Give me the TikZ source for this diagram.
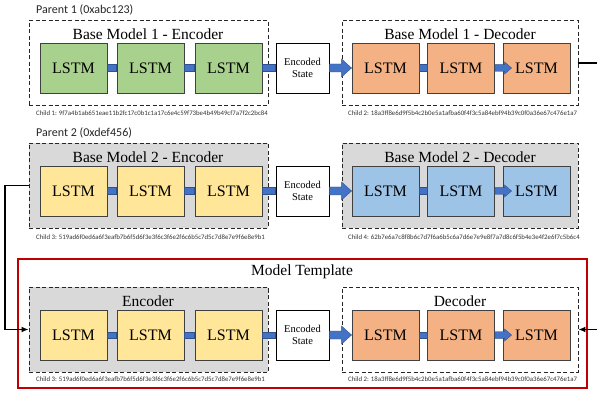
\documentclass[tikz,border=0pt]{standalone}
\usepackage{fontspec}
\setmainfont{Liberation Serif}
\newfontfamily\sansf{Carlito}
\usetikzlibrary{calc,arrows.meta}

\definecolor{lgreen}{HTML}{A9D18E}
\definecolor{lorange}{HTML}{F4B183}
\definecolor{lyellow}{HTML}{FFE699}
\definecolor{lblue}{HTML}{9DC3E6}
\definecolor{panelgray}{HTML}{D9D9D9}
\definecolor{barblue}{HTML}{4472C4}
\definecolor{bardark}{HTML}{2F528F}
\definecolor{framered}{HTML}{C00000}
\definecolor{edgegray}{HTML}{404040}

\tikzset{
  lstmbox/.style={draw=edgegray, line width=0.9pt, minimum width=67pt, minimum height=50pt,
    inner sep=0pt, font=\fontsize{16}{16}\selectfont},
  encbox/.style={draw=black, line width=0.8pt, fill=white, minimum width=53pt, minimum height=50pt,
    align=center, inner sep=0pt, font=\fontsize{10.5}{12.7}\selectfont},
  panelbox/.style={draw=black!85, dash pattern=on 4pt off 2.5pt, line width=0.9pt, inner sep=0pt,
    minimum width=239pt, minimum height=85pt},
  paneltitle/.style={font=\fontsize{15.5}{16}\selectfont, inner sep=0pt},
  hashtext/.style={font=\sansf\fontsize{6.8}{7}\selectfont, anchor=west, inner sep=0pt, text=black!80},
  parenttext/.style={font=\sansf\fontsize{12}{12}\selectfont, anchor=west, inner sep=0pt, text=black!85},
  barfill/.style={fill=barblue, draw=bardark, line width=0.4pt},
  connline/.style={draw=black, line width=1.6pt},
}

% plain bar joining two neighbouring nodes
\newcommand\linkbar[2]{\draw[barfill] ($(#1.east)+(0,-3.3)$) rectangle ($(#2.west)+(0,3.3)$);}
% block arrow: from, to, tip offset, head length, head half height, shaft half height
\newcommand\blockarrow[6]{\draw[barfill] ($(#1.east)+(0,#6)$) -- ($(#2.west)+(#3-#4,#6)$)
  -- ($(#2.west)+(#3-#4,#5)$) -- ($(#2.west)+(#3,0)$) -- ($(#2.west)+(#3-#4,-#5)$)
  -- ($(#2.west)+(#3-#4,-#6)$) -- ($(#1.east)+(0,-#6)$) -- cycle;}

\begin{document}
\begin{tikzpicture}[x=1pt, y=-1pt]
\useasboundingbox[fill=white] (0,0) rectangle (597,395);

% ---------- template frame ----------
\node[draw=framered, line width=2pt, minimum width=569pt, minimum height=129pt, inner sep=0pt]
  (tpl) at (302.5,323.5) {};
\node[paneltitle] (tpltitle) at (302,272) {Model Template};

% ---------- panels ----------
\node[panelbox] (pe1) at (148.5,63) {};
\node[panelbox, minimum width=236pt] (pd1) at (460,63) {};
\node[panelbox, fill=panelgray] (pe2) at (148.5,185.5) {};
\node[panelbox, fill=panelgray, minimum width=236pt] (pd2) at (460,185.5) {};
\node[panelbox, fill=panelgray] (pe3) at (148.5,329.5) {};
\node[panelbox, minimum width=236pt] (pd3) at (460,329.5) {};

\node[paneltitle] (te1) at (148,34) {Base Model 1 - Encoder};
\node[paneltitle] (td1) at (460,34) {Base Model 1 - Decoder};
\node[paneltitle] (te2) at (148,157) {Base Model 2 - Encoder};
\node[paneltitle] (td2) at (460,157) {Base Model 2 - Decoder};
\node[paneltitle] (te3) at (148,301) {Encoder};
\node[paneltitle] (td3) at (460,301) {Decoder};

\node[parenttext] (p1) at (36,10) {Parent 1 (0xabc123)};
\node[parenttext] (p2) at (36,133) {Parent 2 (0xdef456)};

% ---------- rows of LSTM cells ----------
\foreach \r/\y/\ce/\cd in {1/68/lgreen/lorange, 2/191/lyellow/lblue, 3/335/lyellow/lorange}{
  \node[lstmbox, fill=\ce] (e\r1) at (73.5,\y) {LSTM};
  \node[lstmbox, fill=\ce] (e\r2) at (150.5,\y) {LSTM};
  \node[lstmbox, fill=\ce] (e\r3) at (228.5,\y) {LSTM};
  \node[encbox] (s\r) at (302.5,\y) {Encoded\\State};
  \node[lstmbox, fill=\cd] (d\r1) at (385.5,\y) {LSTM};
  \node[lstmbox, fill=\cd] (d\r2) at (461,\y) {LSTM};
  \node[lstmbox, fill=\cd] (d\r3) at (536.5,\y) {LSTM};
  \linkbar{e\r1}{e\r2}
  \linkbar{e\r2}{e\r3}
  \linkbar{e\r3}{s\r}
  \blockarrow{s\r}{d\r1}{0}{10}{9}{4}
  \linkbar{d\r1}{d\r2}
  \blockarrow{d\r2}{d\r3}{9}{7}{6}{3.3}
}

% ---------- hashes ----------
\node[hashtext] (h1) at (36,113) {Child 1: 9f7a4b1ab651eae11b2fc17c0b1c1a17c6e4c59f73be4b49b49cf7a7f2c2bc84};
\node[hashtext] (h2) at (348,113) {Child 2: 18a3ff8e6d9f5b4c2b0e5a1afba60f4f3c5a84ebf94b39c0f0a36e67c476e1a7};
\node[hashtext] (h3) at (36,237) {Child 3: 519ad6f0ed6a6f3eafb7b6f5d6f3e3f6c3f6e2f6c6b5c7d5c7d8e7e9f6e8e9b1};
\node[hashtext] (h4) at (348,237) {Child 4: 62b7e6a7c8f8b6c7d7f6a6b5c6a7d6e7e9e8f7a7d8c6f5b4e3e4f2e6f7c5b6c4};
\node[hashtext] (h5) at (36,379) {Child 3: 519ad6f0ed6a6f3eafb7b6f5d6f3e3f6c3f6e2f6c6b5c7d5c7d8e7e9f6e8e9b1};
\node[hashtext] (h6) at (348,379) {Child 2: 18a3ff8e6d9f5b4c2b0e5a1afba60f4f3c5a84ebf94b39c0f0a36e67c476e1a7};

% ---------- inheritance connectors ----------
\coordinate (lft) at (5,0);
\coordinate (rgt) at (600,0);
\draw[connline, -{Latex[length=7pt,width=6pt]}] (pe2.west) -- (pe2.west -| lft) |- (pe3.west);
\draw[connline] (pd1.east) -- (pd1.east -| rgt);
\draw[connline, -{Latex[length=7pt,width=6pt]}] (pd3.east -| rgt) -- (pd3.east);
\end{tikzpicture}
\end{document}
